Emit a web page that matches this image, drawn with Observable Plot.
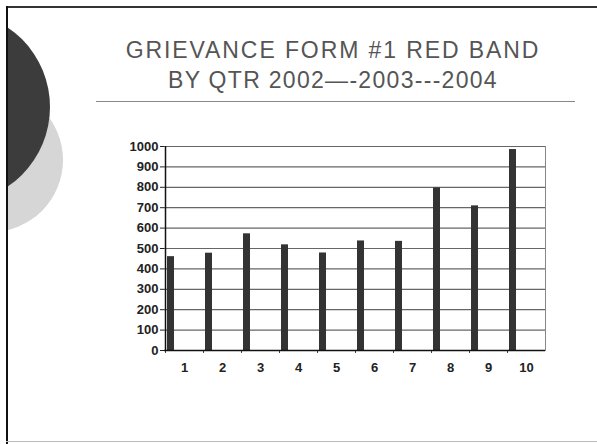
<!DOCTYPE html>
<html>
<head>
<meta charset="utf-8">
<script src="https://cdn.jsdelivr.net/npm/d3@7"></script>
<script src="https://cdn.jsdelivr.net/npm/@observablehq/plot@0.6"></script>
<style>
  html, body { margin: 0; padding: 0; background: #fff; }
  #page { position: relative; width: 597px; height: 444px; overflow: hidden; background: #fff; font-family: "Liberation Sans", Arial, sans-serif; }
  .deco { position: absolute; left: 7px; top: 0; width: 120px; height: 444px; overflow: hidden; }
  .frame-top { position: absolute; left: 6px; top: 6px; width: 600px; height: 0; border-top: 2px solid #333; }
  .frame-left { position: absolute; left: 6px; top: 6px; width: 0; height: 450px; border-left: 2px solid #111; }
  .frame-bottom { position: absolute; left: 6px; top: 441px; width: 600px; height: 0; border-top: 1px solid #bbb; }
  .circ-dark { position: absolute; left: -149px; top: 11px; width: 192px; height: 192px; border-radius: 50%; background: #3c3c3c; }
  .circ-light { position: absolute; left: -88px; top: 88px; width: 144px; height: 144px; border-radius: 50%; background: #d6d6d6; }
  .title { position: absolute; left: 90px; width: 486px; text-align: center; color: #555; font-size: 23px; white-space: nowrap; }
  .rule { position: absolute; left: 96px; top: 101px; width: 479px; height: 0; border-top: 1px solid #888; }
  #chart { position: absolute; left: 0; top: 130px; }
</style>
</head>
<body>
<div id="page">
  <div class="deco">
    <div class="circ-light"></div>
    <div class="circ-dark"></div>
  </div>
  <div class="frame-top"></div>
  <div class="frame-left"></div>
  <div class="frame-bottom"></div>
  <div class="title" style="top:37px; letter-spacing:1.9px">GRIEVANCE FORM #1 RED BAND</div>
  <div class="title" style="top:67px; letter-spacing:1.3px">BY QTR 2002—-2003---2004</div>
  <div class="rule"></div>
  <div id="chart"></div>
</div>
<script>
const quarters = [1, 2, 3, 4, 5, 6, 7, 8, 9, 10];
const counts = [460, 477, 572, 518, 478, 537, 535, 797, 709, 985];
const yTicks = [0, 100, 200, 300, 400, 500, 600, 700, 800, 900, 1000];

const data = quarters.map((q, i) => ({q, v: counts[i]}));

const chart = Plot.plot({
  width: 597,
  height: 250,
  marginLeft: 164,
  marginRight: 52,
  marginTop: 16,
  marginBottom: 30,
  style: {fontFamily: "Liberation Sans, Arial, sans-serif", fontSize: "13px", fontWeight: "bold", color: "#222", background: "transparent"},
  x: {type: "band", domain: quarters, padding: 0},
  y: {domain: [0, 1000]},
  marks: [
    Plot.ruleY(yTicks, {stroke: "#666", strokeWidth: 1.2}),
    Plot.frame({anchor: "right", stroke: "#888"}),
    Plot.barY(data, {x: "q", y: "v", fill: "#333", insetLeft: 2, insetRight: 29}),
    Plot.axisY({ticks: yTicks, tickFormat: d => String(d), tickSize: 4, tickPadding: 2, stroke: "#222", label: null}),
    Plot.axisX({tickSize: 0, tickPadding: 12, label: null}),
    Plot.axisX({tickSize: 3, tickFormat: null, dx: -19, stroke: "#444", label: null}),
    Plot.ruleX([0], {x: () => quarters[0], dx: -19, stroke: "#111", strokeWidth: 1.5}),
    Plot.ruleY([0], {stroke: "#111", strokeWidth: 1.5})
  ]
});
document.getElementById("chart").appendChild(chart);
</script>
</body>
</html>
